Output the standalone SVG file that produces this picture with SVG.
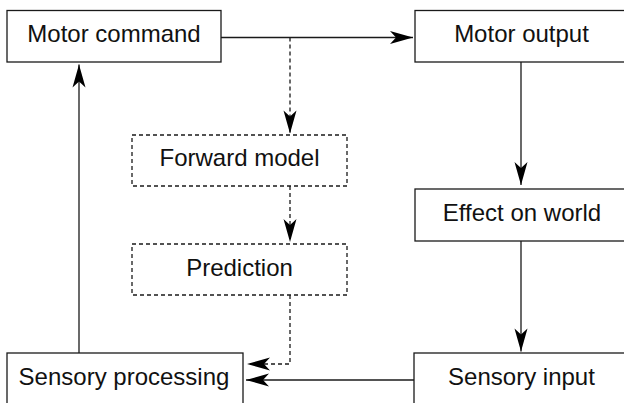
<svg xmlns="http://www.w3.org/2000/svg" width="624" height="403" viewBox="0 0 624 403">
<style>
.box{fill:#fff;stroke:#1a1a1a;stroke-width:1.3}
.dbox{fill:#fff;stroke:#1a1a1a;stroke-width:1.3;stroke-dasharray:4,3}
.lbl{font-family:"Liberation Sans",Arial,Helvetica,sans-serif;font-size:24px;fill:#111;text-anchor:middle}
.ln{fill:none;stroke:#1a1a1a;stroke-width:1.3}
.dl{fill:none;stroke:#1a1a1a;stroke-width:1.3;stroke-dasharray:4,3}
</style>
<defs>
<marker id="ah" markerUnits="userSpaceOnUse" markerWidth="26" markerHeight="16" viewBox="-24 -8 26 16" refX="0" refY="0" orient="auto">
<path d="M0,0 L-23,-6.5 L-17,0 L-23,6.5 Z" fill="#000" stroke="none"/>
</marker>
</defs>
<rect width="624" height="403" fill="#fff"/>
<g id="connectors">
<path class="ln" d="M221,37.5 H413" marker-end="url(#ah)"/>
<path class="dl" d="M290,37.5 V133.5" marker-end="url(#ah)"/>
<path class="dl" d="M290,186 V242" marker-end="url(#ah)"/>
<path class="dl" d="M290,295 V364 H247" marker-end="url(#ah)"/>
<path class="ln" d="M521,62 V185" marker-end="url(#ah)"/>
<path class="ln" d="M521,241 V351.5" marker-end="url(#ah)"/>
<path class="ln" d="M414,380 H246" marker-end="url(#ah)"/>
<path class="ln" d="M79,353 V64.5" marker-end="url(#ah)"/>
</g>
<g id="motor-command">
<rect class="box" x="7" y="10.5" width="214" height="51.5"/>
<text class="lbl" x="114" y="42">Motor command</text>
</g>
<g id="motor-output">
<rect class="box" x="415" y="10.5" width="214" height="51.5"/>
<text class="lbl" x="521.5" y="42">Motor output</text>
</g>
<g id="forward-model">
<rect class="dbox" x="132" y="135" width="215" height="51"/>
<text class="lbl" x="239.5" y="166">Forward model</text>
</g>
<g id="prediction">
<rect class="dbox" x="132" y="244" width="215" height="51"/>
<text class="lbl" x="239.5" y="276">Prediction</text>
</g>
<g id="effect-on-world">
<rect class="box" x="415" y="189" width="214" height="52"/>
<text class="lbl" x="522" y="221">Effect on world</text>
</g>
<g id="sensory-input">
<rect class="box" x="414" y="353" width="215" height="60"/>
<text class="lbl" x="521.5" y="385">Sensory input</text>
</g>
<g id="sensory-processing">
<rect class="box" x="7" y="353" width="236" height="60"/>
<text class="lbl" x="124" y="385">Sensory processing</text>
</g>
</svg>
